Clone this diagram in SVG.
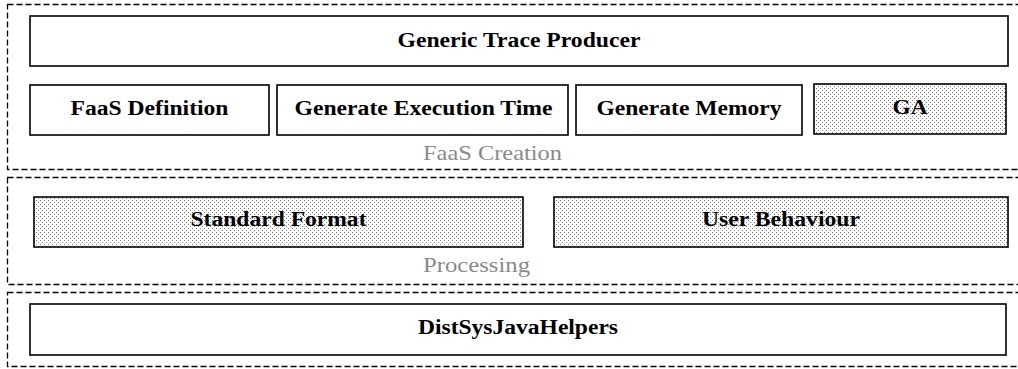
<svg xmlns="http://www.w3.org/2000/svg" width="1018" height="369" viewBox="0 0 1018 369">
<defs>
<pattern id="dots" x="0" y="0" width="4" height="4" patternUnits="userSpaceOnUse">
<rect width="4" height="4" fill="#ffffff"/>
<rect x="0" y="0" width="1" height="1" fill="#7a7a7a"/>
<rect x="2" y="2" width="1" height="1" fill="#7a7a7a"/>
</pattern>
<style>
.group{fill:none;stroke:#000;stroke-width:1.3;stroke-dasharray:6,3}
.box{fill:#ffffff;stroke:#000;stroke-width:1.6}
.hatch{fill:url(#dots);stroke:#000;stroke-width:1.6}
.lbl{font-family:"Liberation Serif","Times New Roman",serif;font-weight:bold;font-size:20px;fill:#000;text-anchor:middle}
.grp{font-family:"Liberation Serif","Times New Roman",serif;font-size:21px;fill:#8a8a8a}
</style>
</defs>
<g id="faas-creation">
<rect class="group" x="7.5" y="4.5" width="1030" height="165"/>
<text class="grp" x="423" y="160" textLength="139" lengthAdjust="spacingAndGlyphs">FaaS Creation</text>
</g>
<g id="processing">
<rect class="group" x="7.5" y="177.5" width="1030" height="107"/>
<text class="grp" x="423" y="272" textLength="107" lengthAdjust="spacingAndGlyphs">Processing</text>
</g>
<g id="helpers-group">
<rect class="group" x="7.5" y="292.5" width="1030" height="74"/>
</g>
<g id="generic-trace-producer">
<rect class="box" x="30" y="16" width="978" height="50"/>
<text class="lbl" x="519" y="47" textLength="243" lengthAdjust="spacingAndGlyphs">Generic Trace Producer</text>
</g>
<g id="faas-definition">
<rect class="box" x="30" y="85" width="239" height="50"/>
<text class="lbl" x="149.5" y="114.5" textLength="158" lengthAdjust="spacingAndGlyphs">FaaS Definition</text>
</g>
<g id="generate-execution-time">
<rect class="box" x="277" y="85" width="291" height="50"/>
<text class="lbl" x="423.5" y="114.5" textLength="258" lengthAdjust="spacingAndGlyphs">Generate Execution Time</text>
</g>
<g id="generate-memory">
<rect class="box" x="576" y="85" width="226" height="50"/>
<text class="lbl" x="689" y="114.5" textLength="185" lengthAdjust="spacingAndGlyphs">Generate Memory</text>
</g>
<g id="ga">
<rect class="hatch" x="814" y="84" width="192" height="50"/>
<text class="lbl" x="910" y="113.5" textLength="35" lengthAdjust="spacingAndGlyphs">GA</text>
</g>
<g id="standard-format">
<rect class="hatch" x="34" y="197" width="489" height="50"/>
<text class="lbl" x="278.5" y="226" textLength="176" lengthAdjust="spacingAndGlyphs">Standard Format</text>
</g>
<g id="user-behaviour">
<rect class="hatch" x="554" y="197" width="454" height="50"/>
<text class="lbl" x="781" y="226" textLength="158" lengthAdjust="spacingAndGlyphs">User Behaviour</text>
</g>
<g id="distsysjavahelpers">
<rect class="box" x="30" y="304" width="976" height="51"/>
<text class="lbl" x="518" y="334" textLength="200" lengthAdjust="spacingAndGlyphs">DistSysJavaHelpers</text>
</g>
<g id="connectors"></g>
</svg>
